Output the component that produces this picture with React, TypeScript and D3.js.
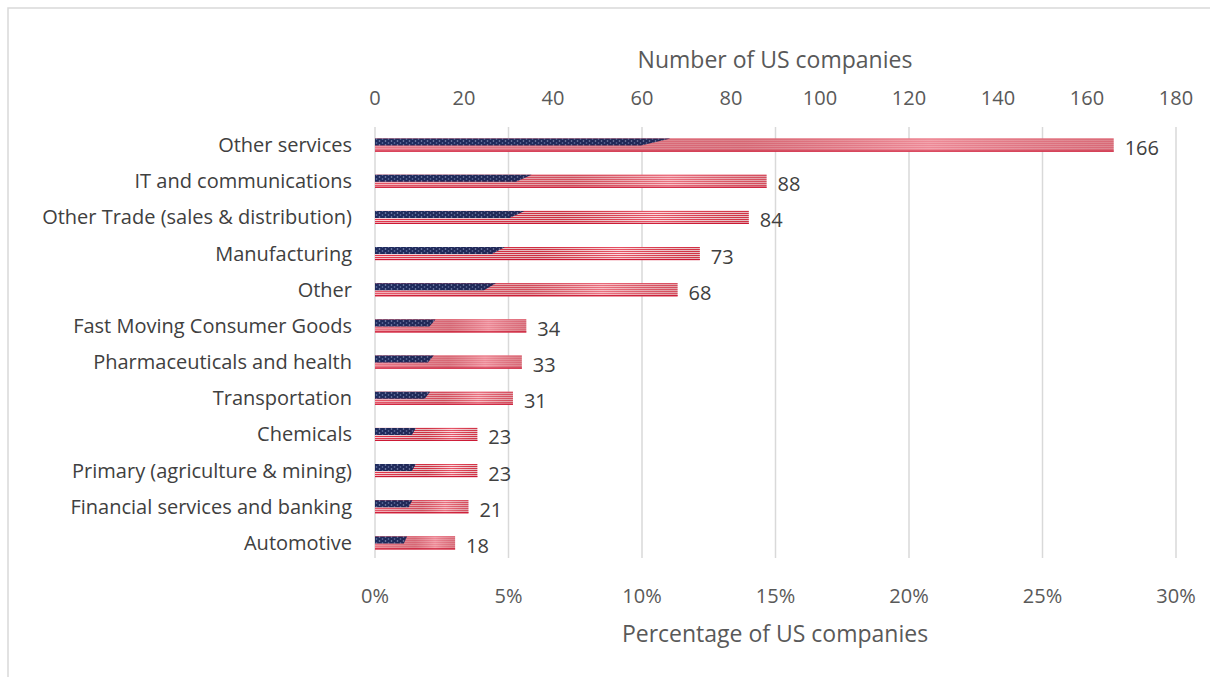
import React from "react";
import * as d3 from "d3";

const categories = [
  "Other services",
  "IT and communications",
  "Other Trade (sales & distribution)",
  "Manufacturing",
  "Other",
  "Fast Moving Consumer Goods",
  "Pharmaceuticals and health",
  "Transportation",
  "Chemicals",
  "Primary (agriculture & mining)",
  "Financial services and banking",
  "Automotive",
];
const counts = [166, 88, 84, 73, 68, 34, 33, 31, 23, 23, 21, 18];
const countTicks = [0, 20, 40, 60, 80, 100, 120, 140, 160, 180];
const pctTicks = [0, 0.05, 0.1, 0.15, 0.2, 0.25, 0.3];

const W = 1210;
const H = 677;
const FONT = "'Open Sans', Lato, sans-serif";

export default function App() {
  const left = 375;
  const right = 1176;
  const xCount = d3.scaleLinear().domain([0, 180]).range([left, right]);
  const xPct = d3.scaleLinear().domain([0, 0.3]).range([left, right]);
  const y = d3
    .scaleBand<string>()
    .domain(categories)
    .range([127, 561])
    .paddingInner(0.64)
    .paddingOuter(0.32);
  const bh = y.bandwidth();
  const stripes = d3.range(13);

  return (
    <div style={{ position: "absolute", left: 0, top: 0 }}>
      <svg width={W} height={H} style={{ display: "block", background: "#fff" }}>
        <defs>
          <pattern id="stars" width="6" height="4" patternUnits="userSpaceOnUse">
            <rect width="6" height="4" fill="#1f2b5e" />
            <circle cx="1.5" cy="1" r="0.8" fill="#8e9bc4" />
            <circle cx="4.5" cy="3" r="0.8" fill="#7080b0" />
          </pattern>
          <linearGradient id="shade" x1="0" x2="1" y1="0" y2="0">
            <stop offset="0" stopColor="#000" stopOpacity="0" />
            <stop offset="0.5" stopColor="#400" stopOpacity="0.12" />
            <stop offset="0.75" stopColor="#fff" stopOpacity="0.15" />
            <stop offset="1" stopColor="#300" stopOpacity="0.1" />
          </linearGradient>
        </defs>
        <rect x={8} y={8} width={W} height={H} fill="none" stroke="#d9d9d9" strokeWidth={1.5} />

        {pctTicks.map((t) => (
          <line
            key={"g" + t}
            x1={xPct(t)}
            x2={xPct(t)}
            y1={127}
            y2={558}
            stroke="#d9d9d9"
            strokeWidth={1.5}
          />
        ))}

        {categories.map((c, i) => {
          const x0 = xCount(0);
          const w = xCount(counts[i]) - x0;
          const y0 = y(c)!;
          const sh = bh / 13;
          const cantonW = w * 0.4;
          return (
            <g key={c}>
              <rect x={x0} y={y0} width={w} height={bh} fill="#fbe3e6" />
              {stripes
                .filter((s) => s % 2 === 0)
                .map((s) => (
                  <rect key={s} x={x0} y={y0 + s * sh} width={w} height={sh} fill="#e0283f" />
                ))}
              <path
                d={`M${x0},${y0}H${x0 + cantonW}L${x0 + cantonW * 0.9},${y0 + sh * 7}H${x0}Z`}
                fill="url(#stars)"
              />
              <rect x={x0} y={y0} width={w} height={bh} fill="url(#shade)" />
              <rect x={x0} y={y0 + bh - sh * 1.2} width={w} height={sh * 1.2} fill="#c8102e" opacity={0.8} />
              <text
                x={xCount(counts[i]) + 11}
                y={y0 + bh / 2 + 3}
                dy="0.35em"
                fontFamily={FONT}
                fontSize={20}
                fill="#404040"
              >
                {counts[i]}
              </text>
              <text
                x={352}
                y={y0 + bh / 2}
                dy="0.35em"
                textAnchor="end"
                fontFamily={FONT}
                fontSize={20}
                fill="#404040"
              >
                {c}
              </text>
            </g>
          );
        })}

        {countTicks.map((t) => (
          <text
            key={"c" + t}
            x={xCount(t)}
            y={98}
            dy="0.35em"
            textAnchor="middle"
            fontFamily={FONT}
            fontSize={20}
            fill="#595959"
          >
            {t}
          </text>
        ))}
        {pctTicks.map((t) => (
          <text
            key={"p" + t}
            x={xPct(t)}
            y={596}
            dy="0.35em"
            textAnchor="middle"
            fontFamily={FONT}
            fontSize={20}
            fill="#595959"
          >
            {d3.format(".0%")(t)}
          </text>
        ))}
        <text x={775} y={60} dy="0.35em" textAnchor="middle" fontFamily={FONT} fontSize={23} fill="#595959">
          Number of US companies
        </text>
        <text x={775} y={634} dy="0.35em" textAnchor="middle" fontFamily={FONT} fontSize={23} fill="#595959">
          Percentage of US companies
        </text>
      </svg>
    </div>
  );
}
